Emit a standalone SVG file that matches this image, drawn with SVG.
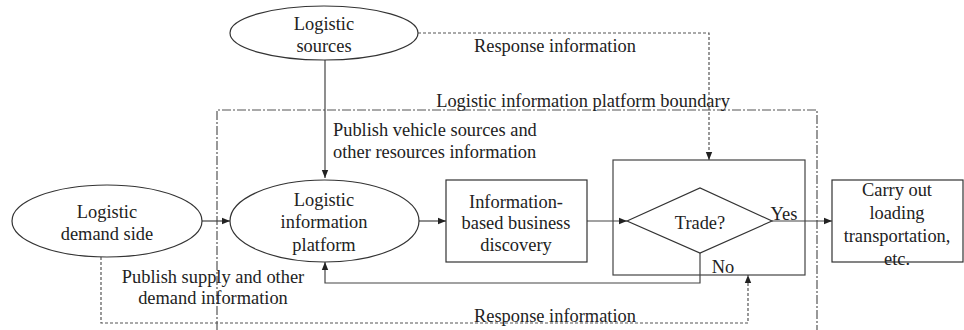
<svg xmlns="http://www.w3.org/2000/svg" width="964" height="330" viewBox="0 0 964 330">
<style>
text{font-family:"Liberation Serif","Times New Roman",serif;font-size:18.4px;fill:#222;text-anchor:middle}
.l{text-anchor:start}
.s{fill:#fff;stroke:#333;stroke-width:1.2}
.c{fill:none;stroke:#444;stroke-width:1.2}
.d{fill:none;stroke:#555;stroke-width:1.2;stroke-dasharray:3 2}
.b{fill:none;stroke:#555;stroke-width:1.2;stroke-dasharray:9 2 2 2}
</style>
<defs>
<marker id="a" viewBox="0 0 8 8" refX="8" refY="4" markerWidth="8" markerHeight="8" markerUnits="userSpaceOnUse" orient="auto">
<path d="M0,0.8 L8,4 L0,7.2 Z" fill="#222"/>
</marker>
</defs>
<g id="boundary">
<path class="b" d="M217,330 V110 H817 V330"/>
<text x="583" y="107">Logistic information platform boundary</text>
</g>
<g id="connectors">
<path class="c" d="M325,60 V178" marker-end="url(#a)"/>
<path class="c" d="M202,221 H230" marker-end="url(#a)"/>
<path class="c" d="M419,221 H446" marker-end="url(#a)"/>
<path class="c" d="M587,221 H627" marker-end="url(#a)"/>
<path class="c" d="M772,221 H832" marker-end="url(#a)"/>
<path class="c" d="M700,253 V283 H325 V262" marker-end="url(#a)"/>
<path class="d" d="M418,33 H709 V160" marker-end="url(#a)"/>
<path class="d" d="M101,257 V323 H748 V275" marker-end="url(#a)"/>
<text x="555" y="52">Response information</text>
<text class="l" x="333" y="136">Publish vehicle sources and</text>
<text class="l" x="333" y="158">other resources information</text>
<text x="213" y="283">Publish supply and other</text>
<text x="213" y="304">demand information</text>
<text x="555" y="322">Response information</text>
<text x="784" y="220">Yes</text>
<text x="723" y="273">No</text>
</g>
<g id="sources">
<ellipse class="s" cx="324" cy="33" rx="94" ry="27"/>
<text x="324" y="30">Logistic</text>
<text x="324" y="52">sources</text>
</g>
<g id="demand">
<ellipse class="s" cx="107" cy="221" rx="95" ry="36"/>
<text x="107" y="218">Logistic</text>
<text x="107" y="240">demand side</text>
</g>
<g id="platform">
<ellipse class="s" cx="324.5" cy="221" rx="94.5" ry="41"/>
<text x="324" y="206">Logistic</text>
<text x="324" y="228">information</text>
<text x="324" y="251">platform</text>
</g>
<g id="discovery">
<rect class="s" x="446" y="180" width="141" height="82"/>
<text x="516" y="208">Information-</text>
<text x="516" y="229">based business</text>
<text x="516" y="251">discovery</text>
</g>
<g id="trade">
<rect class="c" x="613" y="160" width="192" height="115"/>
<polygon class="s" points="627,221 700,188 772,221 700,253"/>
<text x="700" y="229">Trade?</text>
</g>
<g id="carry">
<rect class="s" x="832" y="180" width="131" height="82"/>
<text x="897" y="196">Carry out</text>
<text x="897" y="219">loading</text>
<text x="897" y="242">transportation,</text>
<text x="897" y="265">etc.</text>
</g>
</svg>
